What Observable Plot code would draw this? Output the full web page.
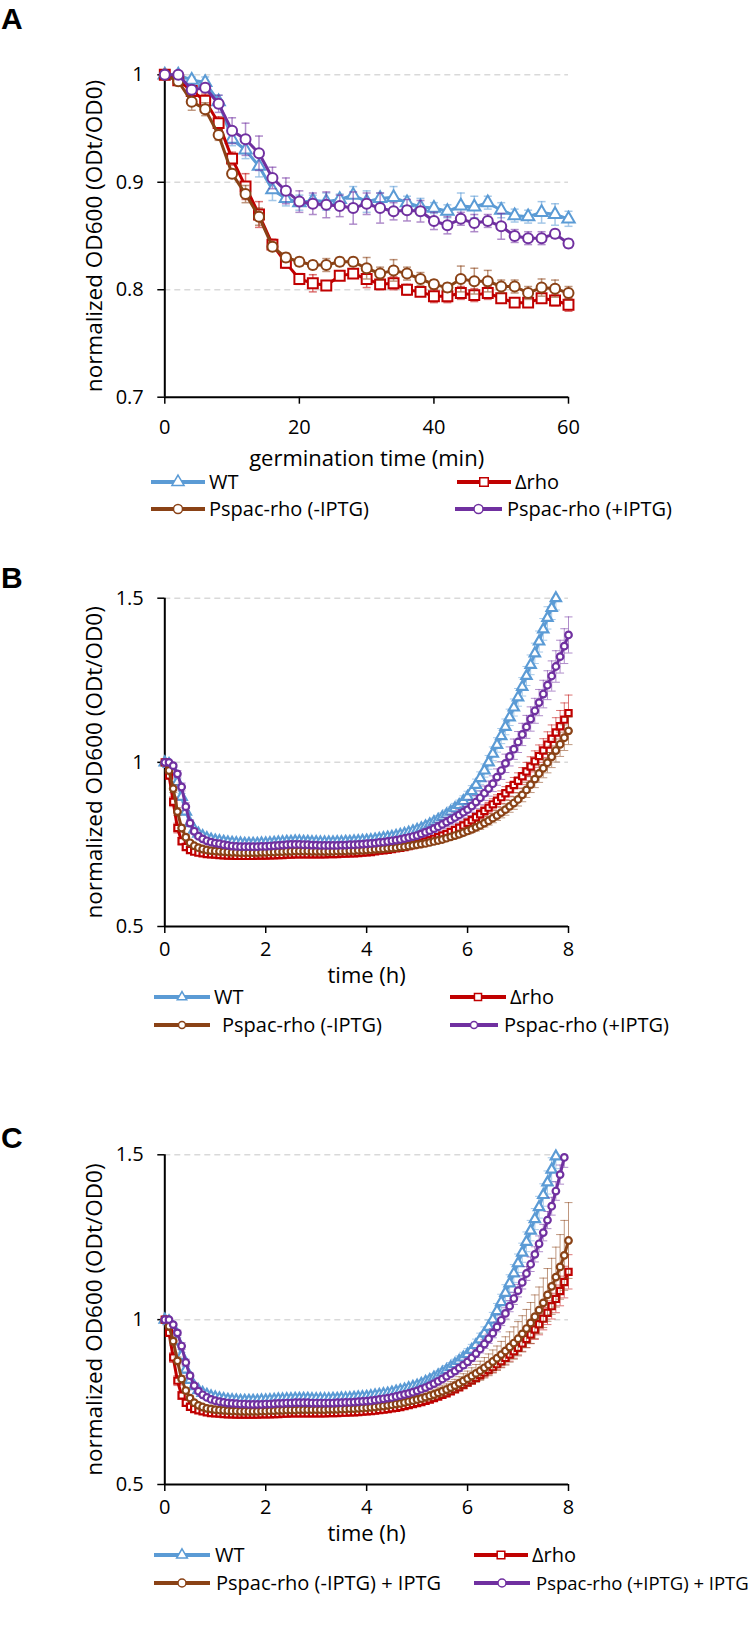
<!DOCTYPE html>
<html>
<head>
<meta charset="utf-8">
<script src="https://cdn.jsdelivr.net/npm/d3@7"></script>
<script src="https://cdn.jsdelivr.net/npm/@observablehq/plot@0.6"></script>
<style>
html,body{margin:0;padding:0;background:#fff;overflow:hidden;}
#page{position:relative;width:750px;height:1632px;overflow:hidden;background:#fff;font-family:"Open Sans",sans-serif;color:#000;}
.abs{position:absolute;}
.plabel{position:absolute;left:1px;font-family:"Liberation Sans",Arial,sans-serif;font-weight:bold;font-size:30px;line-height:30px;}
.ltext{position:absolute;font-family:"Open Sans",sans-serif;font-size:20px;line-height:20px;white-space:nowrap;transform:translateY(-50%);}
</style>
</head>
<body>
<div id="page"></div>
<script>
// ---------- series definitions ----------
const seriesNames = ["WT", "Δrho", "Pspac-rho (-IPTG)", "Pspac-rho (+IPTG)"];
const seriesNamesC = ["WT", "Δrho", "Pspac-rho (-IPTG) + IPTG", "Pspac-rho (+IPTG) + IPTG"];
const seriesColors = ["#5B9BD5", "#C00000", "#8A4216", "#7030A0"];
const seriesSymbols = ["triangle", "square", "circle", "circle"];

// ---------- panel A : germination ----------
const germTimeMin = [0,2,4,6,8,10,12,14,16,18,20,22,24,26,28,30,32,34,36,38,40,42,44,46,48,50,52,54,56,58,60];
const germWT    = [1.000,1.000,.995,.993,.975,.940,.930,.915,.893,.885,.881,.883,.882,.884,.888,.882,.885,.886,.881,.877,.876,.873,.878,.877,.881,.874,.869,.868,.872,.870,.866];
const germWTErr = [0,0,.003,.005,.006,.006,.008,.010,.010,.007,.007,.005,.008,.005,.008,.010,.005,.010,.006,.008,.005,.006,.012,.010,.006,.007,.006,.006,.010,.010,.007];
const germRho    = [1.000,.995,.985,.976,.955,.922,.896,.870,.842,.825,.810,.806,.804,.813,.815,.810,.805,.806,.800,.798,.794,.794,.797,.795,.797,.792,.788,.788,.792,.790,.786];
const germRhoErr = [0,.003,.005,.006,.006,.006,.012,.012,.005,.005,.005,.008,.004,.004,.004,.008,.005,.006,.005,.004,.006,.006,.006,.006,.006,.004,.004,.004,.004,.005,.006];
const germMinus    = [1.000,.994,.975,.968,.944,.908,.889,.868,.840,.830,.826,.823,.823,.826,.826,.820,.815,.818,.815,.810,.805,.802,.810,.808,.808,.803,.803,.797,.802,.801,.797];
const germMinusErr = [0,.004,.008,.006,.005,.004,.008,.008,.004,.004,.004,.004,.006,.004,.004,.010,.006,.010,.006,.006,.004,.004,.012,.012,.010,.006,.006,.006,.008,.008,.006];
const germPlus    = [1.000,1.000,.986,.988,.973,.948,.940,.927,.904,.892,.882,.880,.879,.878,.876,.880,.876,.873,.874,.873,.864,.860,.866,.862,.864,.859,.850,.848,.848,.852,.843];
const germPlusErr = [0,.002,.004,.004,.008,.012,.015,.016,.010,.012,.010,.010,.012,.010,.015,.010,.014,.008,.010,.010,.008,.008,.006,.008,.006,.012,.006,.006,.006,.004,.004];
const xTicksA = [0,20,40,60];
const yTicksA = [0.7,0.8,0.9,1];
const gridA = [0.8,0.9,1];

// ---------- panels B and C : growth (sampled every 5 min) ----------
const growthTimeMin = [0,5,10,15,20,25,30,35,40,45,50,55,60,65,70,75,80,85,90,95,100,105,110,115,120,125,130,135,140,145,150,155,160,165,170,175,180,185,190,195,200,205,210,215,220,225,230,235,240,245,250,255,260,265,270,275,280,285,290,295,300,305,310,315,320,325,330,335,340,345,350,355,360,365,370,375,380,385,390,395,400,405,410,415,420,425,430,435,440,445,450,455,460,465,470,475,480];

const growthB_WT = [1.000,.995,.975,.940,.895,.850,.815,.795,.783,.775,.769,.765,.762,
.760,.758,.756,.755,.754,.753,.752,.752,.752,.752,.753,.753,
.754,.755,.756,.757,.758,.758,.759,.759,.758,.758,.757,.757,
.756,.756,.756,.756,.757,.757,.758,.758,.759,.760,.761,.762,
.763,.765,.767,.769,.771,.773,.776,.779,.782,.786,.790,.794,
.799,.805,.811,.818,.825,.833,.841,.850,.860,.870,.882,.895,
.912,.931,.952,.975,1.000,1.026,1.053,1.080,1.108,1.137,1.167,1.198,
1.230,1.263,1.297,1.332,1.368,1.405,1.440,1.470,1.500];
const growthB_WTErr = [0,.004,.008,.010,.010,.010,.008,.007,.006,.006,.005,.005,.005,
.005,.005,.005,.005,.005,.005,.005,.005,.005,.005,.005,.005,
.005,.005,.005,.005,.005,.005,.005,.005,.005,.005,.005,.005,
.005,.005,.005,.005,.006,.006,.006,.006,.006,.006,.006,.007,
.007,.007,.007,.008,.008,.008,.009,.009,.009,.010,.010,.010,
.011,.011,.012,.012,.013,.013,.014,.014,.015,.015,.016,.017,
.017,.018,.019,.020,.021,.021,.022,.023,.024,.025,.026,.027,
.028,.029,.030,.031,.032,.033,.034,.035,.036];
const growthB_Rho = [1.000,.960,.880,.800,.760,.742,.733,.728,.725,.723,.721,.720,.719,
.718,.717,.716,.716,.715,.715,.715,.715,.715,.716,.716,.716,
.717,.717,.718,.718,.719,.719,.720,.720,.720,.720,.720,.720,
.720,.720,.721,.721,.721,.722,.722,.723,.723,.724,.725,.726,
.727,.729,.731,.732,.734,.736,.738,.740,.742,.745,.748,.751,
.755,.759,.763,.767,.772,.777,.782,.788,.794,.801,.808,.816,
.824,.833,.842,.852,.862,.872,.883,.894,.906,.918,.931,.944,
.958,.972,.987,1.003,1.019,1.036,1.054,1.072,1.091,1.110,1.130,1.150];
const growthB_RhoErr = [0,.010,.015,.015,.012,.010,.008,.006,.005,.005,.005,.004,.004,
.004,.004,.004,.004,.004,.004,.004,.004,.004,.004,.004,.004,
.004,.004,.004,.004,.004,.004,.004,.004,.004,.004,.004,.004,
.004,.004,.004,.004,.004,.004,.004,.004,.004,.004,.004,.004,
.004,.004,.005,.005,.005,.005,.005,.006,.006,.006,.006,.007,
.007,.007,.008,.008,.008,.009,.009,.010,.010,.011,.011,.012,
.013,.013,.014,.015,.016,.017,.018,.019,.020,.021,.023,.024,
.026,.028,.030,.032,.034,.036,.039,.042,.045,.048,.051,.055];
const growthB_Minus = [1.000,.975,.920,.850,.800,.772,.755,.746,.740,.736,.733,.731,.730,
.729,.728,.727,.726,.726,.725,.725,.725,.725,.725,.726,.726,
.727,.727,.728,.728,.729,.729,.730,.730,.730,.730,.729,.729,
.729,.729,.729,.729,.730,.730,.730,.731,.731,.732,.732,.733,
.734,.735,.736,.737,.738,.739,.740,.742,.743,.745,.747,.749,
.751,.753,.756,.759,.762,.765,.769,.773,.777,.781,.786,.791,
.796,.802,.808,.815,.822,.830,.838,.847,.856,.866,.876,.887,
.901,.916,.932,.949,.966,.982,.999,1.017,1.036,1.055,1.075,1.096];
const growthB_MinusErr = [0,.008,.012,.012,.010,.008,.007,.006,.005,.004,.004,.004,.004,
.004,.004,.004,.004,.004,.004,.004,.004,.004,.004,.004,.004,
.004,.004,.004,.004,.004,.004,.004,.004,.004,.004,.004,.004,
.004,.004,.004,.004,.004,.004,.004,.004,.004,.004,.004,.004,
.004,.004,.004,.004,.004,.004,.005,.005,.005,.005,.005,.005,
.005,.006,.006,.006,.007,.007,.007,.008,.008,.009,.009,.010,
.010,.011,.012,.012,.013,.014,.015,.016,.017,.018,.019,.020,
.021,.023,.024,.026,.027,.029,.031,.033,.035,.037,.039,.042];
const growthB_Plus = [1.000,1.000,.990,.965,.925,.865,.815,.790,.775,.767,.761,.757,.754,
.752,.749,.747,.745,.744,.743,.743,.743,.743,.743,.744,.744,
.745,.746,.747,.748,.749,.750,.750,.750,.749,.749,.748,.748,
.747,.747,.747,.747,.747,.748,.748,.749,.749,.750,.751,.752,
.753,.754,.756,.757,.759,.761,.763,.765,.768,.771,.774,.777,
.782,.787,.792,.798,.804,.811,.818,.825,.832,.840,.848,.856,
.867,.879,.892,.906,.920,.935,.955,.975,.997,1.018,1.040,1.062,
1.085,1.108,1.132,1.157,1.182,1.208,1.235,1.263,1.292,1.322,1.354,1.388];
const growthB_PlusErr = [0,0,.005,.010,.012,.012,.010,.008,.007,.006,.006,.005,.005,
.005,.005,.005,.005,.005,.005,.005,.005,.005,.005,.005,.005,
.005,.005,.005,.005,.005,.005,.005,.005,.005,.005,.005,.005,
.005,.005,.005,.005,.005,.005,.005,.005,.005,.005,.005,.005,
.006,.006,.006,.007,.007,.007,.008,.008,.008,.009,.009,.010,
.010,.011,.011,.012,.013,.013,.014,.015,.016,.016,.017,.018,
.019,.020,.021,.022,.023,.024,.025,.027,.028,.029,.031,.032,
.034,.035,.037,.038,.040,.042,.044,.046,.048,.050,.053,.055];

const growthC_WT = [1.000,.995,.975,.935,.890,.848,.817,.798,.786,.778,.772,.767,.764,
.761,.759,.757,.756,.755,.754,.754,.754,.754,.754,.755,.755,
.756,.757,.758,.758,.759,.759,.760,.760,.760,.760,.759,.759,
.759,.759,.759,.760,.760,.761,.761,.762,.763,.764,.765,.766,
.768,.770,.772,.774,.776,.779,.782,.785,.788,.792,.796,.800,
.805,.811,.817,.824,.831,.839,.847,.856,.865,.875,.885,.895,
.908,.923,.940,.958,.978,1.000,1.026,1.053,1.081,1.110,1.140,1.171,
1.203,1.236,1.270,1.305,1.341,1.378,1.416,1.455,1.495];
const growthC_WTErr = [0,.004,.008,.010,.010,.010,.008,.007,.006,.006,.005,.005,.005,
.005,.005,.005,.005,.005,.005,.005,.005,.005,.005,.005,.005,
.005,.005,.005,.005,.005,.005,.005,.005,.005,.005,.005,.005,
.005,.005,.005,.005,.006,.006,.006,.006,.006,.006,.006,.007,
.007,.007,.007,.008,.008,.008,.009,.009,.009,.010,.010,.010,
.011,.011,.012,.012,.013,.013,.014,.014,.015,.015,.016,.017,
.017,.018,.019,.020,.021,.022,.023,.024,.025,.026,.027,.028,
.029,.030,.031,.032,.033,.034,.035,.036,.037];
const growthC_Rho = [1.000,.960,.885,.815,.770,.748,.736,.729,.725,.722,.719,.717,.716,
.715,.714,.713,.713,.712,.712,.712,.712,.712,.712,.713,.713,
.713,.714,.714,.715,.715,.716,.716,.716,.716,.716,.716,.716,
.716,.716,.717,.717,.717,.718,.718,.719,.719,.720,.721,.722,
.723,.724,.726,.727,.729,.731,.733,.735,.738,.741,.744,.747,
.750,.754,.758,.762,.767,.772,.777,.783,.789,.795,.802,.809,
.816,.824,.832,.840,.848,.856,.865,.874,.884,.894,.904,.915,
.928,.941,.955,.970,.986,1.003,1.021,1.041,1.063,1.087,1.114,1.145];
const growthC_RhoErr = [0,.010,.015,.015,.012,.010,.008,.006,.005,.005,.004,.004,.004,
.004,.004,.004,.004,.004,.004,.004,.004,.004,.004,.004,.004,
.004,.004,.004,.004,.004,.004,.004,.004,.004,.004,.004,.004,
.004,.004,.004,.004,.004,.004,.004,.004,.004,.004,.004,.004,
.004,.004,.004,.004,.004,.004,.005,.005,.005,.005,.005,.005,
.005,.006,.006,.006,.007,.007,.008,.008,.009,.009,.010,.010,
.011,.012,.013,.014,.015,.016,.017,.018,.019,.020,.021,.022,
.024,.026,.028,.030,.032,.034,.036,.039,.042,.045,.048,.052];
const growthC_Minus = [1.000,.980,.935,.875,.820,.785,.762,.748,.740,.735,.731,.729,.727,
.726,.725,.724,.723,.723,.722,.722,.722,.722,.722,.723,.723,
.724,.724,.725,.725,.726,.726,.726,.727,.727,.727,.727,.727,
.727,.727,.728,.728,.728,.729,.729,.730,.730,.731,.732,.733,
.734,.735,.737,.738,.740,.742,.744,.746,.749,.752,.755,.758,
.761,.765,.769,.773,.778,.783,.788,.794,.800,.807,.814,.821,
.829,.837,.845,.854,.863,.873,.883,.894,.905,.917,.929,.942,
.957,.973,.990,1.009,1.029,1.051,1.075,1.101,1.129,1.160,1.195,1.240];
const growthC_MinusErr = [0,.008,.012,.012,.010,.008,.007,.006,.005,.005,.005,.005,.005,
.005,.005,.005,.005,.005,.005,.005,.005,.005,.005,.005,.005,
.005,.005,.005,.005,.005,.005,.005,.005,.005,.005,.005,.005,
.005,.005,.005,.005,.005,.005,.005,.005,.005,.005,.005,.005,
.006,.006,.006,.007,.007,.007,.008,.008,.009,.009,.010,.010,
.011,.012,.013,.014,.015,.016,.017,.018,.019,.020,.022,.023,
.025,.027,.029,.031,.033,.035,.037,.040,.043,.046,.049,.052,
.055,.058,.062,.066,.070,.075,.080,.085,.091,.098,.106,.115];
const growthC_Plus = [1.000,1.000,.985,.960,.920,.870,.830,.800,.783,.772,.764,.758,.754,
.751,.749,.747,.746,.745,.744,.744,.743,.743,.743,.743,.744,
.744,.745,.746,.746,.747,.747,.748,.748,.748,.748,.747,.747,
.747,.747,.747,.747,.748,.748,.749,.749,.750,.751,.752,.753,
.754,.756,.758,.760,.762,.764,.767,.770,.773,.776,.780,.784,
.789,.794,.800,.806,.813,.820,.828,.836,.844,.853,.862,.872,
.884,.897,.911,.926,.942,.959,.978,.998,1.019,1.041,1.064,1.088,
1.113,1.140,1.168,1.198,1.230,1.264,1.302,1.344,1.390,1.440,1.492];
const growthC_PlusErr = [0,0,.004,.008,.010,.010,.008,.007,.006,.005,.005,.005,.005,
.004,.004,.004,.004,.004,.004,.004,.004,.004,.004,.004,.004,
.004,.004,.004,.004,.004,.004,.004,.004,.004,.004,.004,.004,
.004,.004,.004,.004,.004,.004,.004,.004,.004,.004,.004,.004,
.005,.005,.005,.005,.005,.005,.006,.006,.006,.006,.006,.006,
.006,.007,.007,.007,.008,.008,.008,.009,.009,.010,.010,.011,
.011,.012,.012,.013,.014,.014,.015,.016,.017,.017,.018,.019,
.020,.021,.022,.023,.024,.025,.026,.027,.028,.029,.030];

const xTicksBC = [0,2,4,6,8];
const yTicksBC = [0.5,1,1.5];
const gridBC = [1,1.5];

// ---------- drawing ----------
const page = document.getElementById("page");
const capSymbol = {draw(context, size) {const w = Math.sqrt(size / Math.PI); context.moveTo(-w, 0); context.lineTo(w, 0);}};
const d3Symbols = {triangle: d3.symbolTriangle, square: d3.symbolSquare, circle: d3.symbolCircle};

function rowsOf(times, values, errs) {
  return values.map((v, i) => ({x: times[i], y: v, e: errs[i] || 0}));
}

function drawPanel(o) {
  const [y0, y1] = o.yDomain;
  const marks = [
    Plot.ruleY(o.grid, {stroke: "#D9D9D9", strokeWidth: 1.5, strokeDasharray: "6,4"}),
    Plot.ruleX([o.xDomain[0]], {y1: y0, y2: y1, stroke: "#000", strokeWidth: 2}),
    Plot.ruleY([y0], {x1: o.xDomain[0], x2: o.xDomain[1], stroke: "#000", strokeWidth: 2}),
    Plot.axisX({ticks: o.xTicks, tickSize: 7, tickPadding: o.xPad, fontSize: 20, label: null, strokeWidth: 1.5, tickFormat: d => String(d)}),
    Plot.axisY({ticks: o.yTicks, tickSize: 7, tickPadding: 14, fontSize: 20, label: null, strokeWidth: 1.5, tickFormat: d => String(d)}),
    Plot.text([o.xLabel], {text: d => d, frameAnchor: "bottom", textAnchor: "middle", lineAnchor: "middle", dy: o.titleDy, fontSize: 22}),
    Plot.text([o.yLabel], {text: d => d, frameAnchor: "left", textAnchor: "middle", lineAnchor: "middle", dx: -70.3, rotate: -90, fontSize: 22.5})
  ];
  o.series.forEach((s, k) => {
    const rows = rowsOf(o.times, s.values, s.errs);
    const er = rows.filter(d => d.e > 0);
    const col = seriesColors[k];
    marks.push(Plot.ruleX(er, {x: "x", y1: d => Math.max(d.y - d.e, y0), y2: d => Math.min(d.y + d.e, y1), stroke: col, strokeOpacity: 0.55, strokeWidth: o.errW}));
    marks.push(Plot.dot(er.filter(d => d.y + d.e <= y1 + 1e-9), {x: "x", y: d => d.y + d.e, symbol: capSymbol, r: o.capR, fill: "none", stroke: col, strokeOpacity: 0.55, strokeWidth: o.errW}));
    marks.push(Plot.dot(er, {x: "x", y: d => d.y - d.e, symbol: capSymbol, r: o.capR, fill: "none", stroke: col, strokeOpacity: 0.55, strokeWidth: o.errW}));
    marks.push(Plot.line(rows, {x: "x", y: "y", stroke: col, strokeWidth: o.lineW}));
    marks.push(Plot.dot(rows, {x: "x", y: "y", symbol: seriesSymbols[k], r: o.markR[k], fill: "#fff", stroke: col, strokeWidth: o.markW}));
  });
  const chart = Plot.plot({
    width: 750, height: o.height,
    marginTop: o.marginTop, marginBottom: o.height - o.marginTop - o.innerH,
    marginLeft: 164.3, marginRight: 182,
    x: {domain: o.xDomain},
    y: {domain: o.yDomain},
    style: {fontFamily: '"Open Sans", sans-serif', fontSize: "20px", color: "#000", background: "transparent", overflow: "visible"},
    marks
  });
  chart.style.position = "absolute";
  chart.style.left = "0px";
  chart.style.top = o.top + "px";
  page.appendChild(chart);
}

function legendItem(k, label, x1, x2, yc, textX, markR, fontSize) {
  const w = x2 - x1, col = seriesColors[k];
  const svg = d3.select(page).append("svg").attr("class", "abs")
    .style("left", x1 + "px").style("top", (yc - 10) + "px")
    .attr("width", w).attr("height", 20);
  svg.append("line").attr("x1", 0).attr("x2", w).attr("y1", 10).attr("y2", 10)
    .attr("stroke", col).attr("stroke-width", 4);
  svg.append("path").attr("d", d3.symbol().type(d3Symbols[seriesSymbols[k]]).size(Math.PI * markR * markR)())
    .attr("transform", `translate(${w / 2},10)`).attr("fill", "#fff").attr("stroke", col).attr("stroke-width", 1.5);
  const t = d3.select(page).append("div").attr("class", "ltext").style("left", textX + "px").style("top", yc + "px").text(label);
  if (fontSize) t.style("font-size", fontSize + "px");
}

function panelLabel(t, top) {
  d3.select(page).append("div").attr("class", "plabel").style("top", top + "px").text(t);
}

const yTitle = "normalized OD600 (ODt/OD0)";
const hours = growthTimeMin.map(m => m / 60);

// Panel A
panelLabel("A", 4);
drawPanel({
  top: 0, height: 480, marginTop: 74.3, innerH: 322.4,
  xDomain: [0, 60], yDomain: [0.7, 1], xTicks: xTicksA, yTicks: yTicksA, grid: gridA,
  xLabel: "germination time (min)", yLabel: yTitle, times: germTimeMin, xPad: 16, titleDy: 62,
  series: [
    {values: germWT, errs: germWTErr},
    {values: germRho, errs: germRhoErr},
    {values: germMinus, errs: germMinusErr},
    {values: germPlus, errs: germPlusErr}
  ],
  lineW: 3, markW: 2, markR: [4.6, 5.6, 5, 5], errW: 1.5, capR: 4
});
legendItem(0, seriesNames[0], 151, 205, 481.6, 209, 4.5);
legendItem(1, seriesNames[1], 457, 511, 481.6, 515, 4.8);
legendItem(2, seriesNames[2], 151, 205, 508.6, 209, 4.5);
legendItem(3, seriesNames[3], 455, 502, 508.6, 507, 4.5);

// Panel B
panelLabel("B", 563);
drawPanel({
  top: 560, height: 450, marginTop: 37.7, innerH: 328.3,
  xDomain: [0, 8], yDomain: [0.5, 1.5], xTicks: xTicksBC, yTicks: yTicksBC, grid: gridBC,
  xLabel: "time (h)", yLabel: yTitle, times: hours, xPad: 8, titleDy: 49,
  series: [
    {values: growthB_WT, errs: growthB_WTErr},
    {values: growthB_Rho, errs: growthB_RhoErr},
    {values: growthB_Minus, errs: growthB_MinusErr},
    {values: growthB_Plus, errs: growthB_PlusErr}
  ],
  lineW: 3, markW: 2.2, markR: [3.8, 3.5, 3.3, 3.3], errW: 1, capR: 4
});
legendItem(0, seriesNames[0], 154, 210, 996.5, 214, 3.5);
legendItem(1, seriesNames[1], 450, 506, 996.5, 510, 4);
legendItem(2, seriesNames[2], 154, 210, 1024.6, 222, 3.5);
legendItem(3, seriesNames[3], 450, 498, 1024.6, 504, 3.5);

// Panel C
panelLabel("C", 1123);
drawPanel({
  top: 1110, height: 460, marginTop: 44.3, innerH: 329.7,
  xDomain: [0, 8], yDomain: [0.5, 1.5], xTicks: xTicksBC, yTicks: yTicksBC, grid: gridBC,
  xLabel: "time (h)", yLabel: yTitle, times: hours, xPad: 8, titleDy: 49,
  series: [
    {values: growthC_WT, errs: growthC_WTErr},
    {values: growthC_Rho, errs: growthC_RhoErr},
    {values: growthC_Minus, errs: growthC_MinusErr},
    {values: growthC_Plus, errs: growthC_PlusErr}
  ],
  lineW: 3, markW: 2.2, markR: [3.8, 3.5, 3.3, 3.3], errW: 1, capR: 4
});
legendItem(0, seriesNamesC[0], 154, 210, 1555, 215, 4);
legendItem(1, seriesNamesC[1], 474, 528, 1555, 532, 4.3);
legendItem(2, seriesNamesC[2], 154, 210, 1583, 216, 4);
legendItem(3, seriesNamesC[3], 474, 530, 1583, 536, 4, 18.5);
</script>
</body>
</html>
